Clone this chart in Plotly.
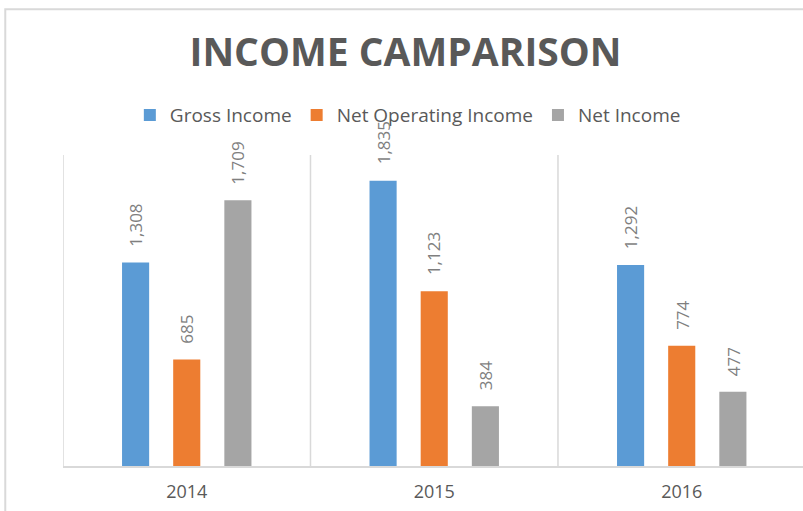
import plotly.graph_objects as go

years = ["2014", "2015", "2016"]
series_names = ["Gross Income", "Net Operating Income", "Net Income"]
gross_income = [1308, 1835, 1292]
net_operating_income = [685, 1123, 774]
net_income = [1709, 384, 477]
colors = ["#5B9BD5", "#ED7D31", "#A5A5A5"]

all_values = [gross_income, net_operating_income, net_income]
bargap = 0.38
slot = (1 - bargap) / len(all_values)

fig = go.Figure()
for name, vals, col in zip(series_names, all_values, colors):
    fig.add_trace(go.Bar(name=name, x=list(range(len(years))), y=vals,
                         marker=dict(color=col, line=dict(width=0))))

# rotated value labels above each bar
for k, vals in enumerate(all_values):
    for i, v in enumerate(vals):
        fig.add_annotation(x=i + (k - 1) * slot, y=v, xref="x", yref="y",
                           text=f"{v:,}", textangle=-90, showarrow=False,
                           yanchor="bottom", yshift=14,
                           font=dict(family="Open Sans", size=17, color="#7F7F7F"))

# outer chart frame
fig.add_shape(type="rect", xref="paper", yref="paper",
              x0=-0.078, x1=1.2, y0=-0.3, y1=1.469,
              line=dict(color="#D9D9D9", width=2), layer="below")

fig.update_layout(
    width=803, height=511,
    margin=dict(l=63, r=0, t=155, b=45),
    paper_bgcolor="white", plot_bgcolor="white",
    barmode="group", bargap=bargap, bargroupgap=0.47,
    title=dict(text="<b>INCOME CAMPARISON</b>", x=0.505, xanchor="center",
               y=1 - 52 / 511, yanchor="middle",
               font=dict(family="Open Sans", size=39, color="#595959")),
    legend=dict(orientation="h", x=0.466, xanchor="center", y=1.128, yanchor="middle",
                font=dict(family="Open Sans", size=19, color="#595959"),
                bgcolor="rgba(0,0,0,0)"),
    showlegend=True,
)
fig.update_xaxes(type="linear", range=[-0.5, 2.49], tickvals=list(range(len(years))),
                 ticktext=years, showgrid=False, zeroline=False,
                 showline=True, linecolor="#D9D9D9", linewidth=2, ticks="",
                 ticklabelstandoff=8,
                 tickfont=dict(family="Open Sans", size=18, color="#595959"))
fig.update_yaxes(range=[0, 2000], visible=False)

# category separators
for b in [-0.5, 0.5, 1.5]:
    fig.add_shape(type="line", xref="x", yref="y", x0=b, x1=b, y0=0, y1=2000,
                  line=dict(color="#D9D9D9", width=1.5), layer="below")

fig.write_html("out.html", config={"displayModeBar": False},
               post_script="document.body.style.margin='0';")
